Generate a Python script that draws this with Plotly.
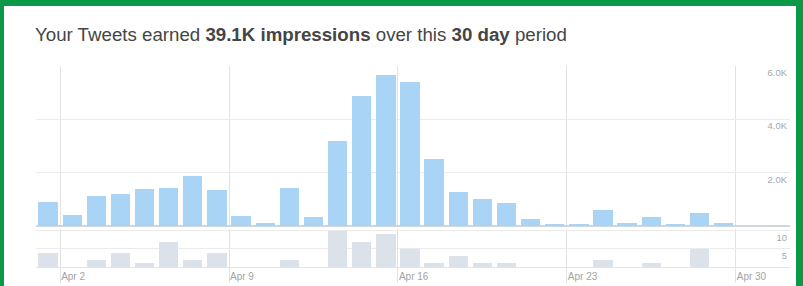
import plotly.graph_objects as go
import pandas as pd

# ---- data ----
dates = pd.date_range("2018-04-01", "2018-04-30", freq="D").strftime("%Y-%m-%d").tolist()
impressions = [900, 400, 1125, 1200, 1375, 1413, 1875, 1350, 375, 100,
               1413, 325, 3200, 4875, 5663, 5413, 2513, 1288, 1000, 850,
               263, 75, 40, 600, 125, 350, 75, 475, 125, 0]
engagements = [4, 0, 2, 4, 1, 7, 2, 4, 0, 0,
               2, 0, 10, 7, 9, 5, 1, 3, 1, 1,
               0, 0, 0, 2, 0, 1, 0, 5, 0, 0]
tick_dates = ["2018-04-02", "2018-04-09", "2018-04-16", "2018-04-23", "2018-04-30"]
imp_tickvals = [2000, 4000, 6000]
imp_ticktext = ["2.0K", "4.0K", "6.0K"]
eng_tickvals = [5, 10]
eng_ticktext = ["5", "10"]
title_html = ("Your Tweets earned <b>39.1K impressions</b> over this "
              "<b>30 day</b> period")

DAY_MS = 86400000
W, H = 803, 286
ML, MR, MT, MB = 36, 13, 66, 19
PW, PH = W - ML - MR, H - MT - MB

fig = go.Figure()
fig.add_bar(x=dates, y=impressions, xaxis="x", yaxis="y",
            marker=dict(color="#aad4f6", line=dict(width=0)),
            width=0.8 * DAY_MS, xperiod=DAY_MS, xperiodalignment="middle",
            hoverinfo="x+y", showlegend=False)
fig.add_bar(x=dates, y=engagements, xaxis="x", yaxis="y2",
            marker=dict(color="#dce2e9", line=dict(width=0)),
            width=0.8 * DAY_MS, xperiod=DAY_MS, xperiodalignment="middle",
            hoverinfo="x+y", showlegend=False)

grid = "#ebebeb"
xtickfont = dict(family="Liberation Sans, Arial, sans-serif", size=10, color="#a3a3a3")
ytickfont = dict(family="Liberation Sans, Arial, sans-serif", size=9.5, color="#a8a8a8")

fig.update_layout(
    width=W, height=H,
    margin=dict(l=ML, r=MR, t=MT, b=MB, pad=0, autoexpand=False),
    paper_bgcolor="white", plot_bgcolor="white",
    bargap=0, barmode="overlay",
    xaxis=dict(type="date", range=["2018-04-01 00:00", "2018-05-02 06:00"],
               tickvals=tick_dates, tickformat="%b %-d",
               showgrid=True, gridcolor="#e2e2e2", gridwidth=1,
               ticks="outside", ticklen=15, tickcolor="#e2e2e2",
               ticklabelposition="outside right",
               showline=True, linecolor="#e4e4e4", linewidth=1,
               zeroline=False, anchor="y2", tickfont=xtickfont,
               automargin=False, fixedrange=True),
    yaxis=dict(domain=[41 / PH, 1], range=[0, 6000], side="right",
               tickvals=imp_tickvals, ticktext=imp_ticktext,
               ticklabelposition="inside bottom", ticks="",
               showgrid=True, gridcolor=grid, zeroline=True,
               zerolinecolor="#cfd6dd", zerolinewidth=1.5,
               tickfont=ytickfont, automargin=False, fixedrange=True),
    yaxis2=dict(domain=[0, 38 / PH], range=[0, 10.5], side="right",
                tickvals=eng_tickvals, ticktext=eng_ticktext,
                ticklabelposition="inside bottom", ticks="",
                showgrid=True, gridcolor=grid, zeroline=False,
                tickfont=ytickfont, anchor="x", automargin=False,
                fixedrange=True),
    font=dict(family="Liberation Sans, Arial, sans-serif"),
)

# title
fig.add_annotation(text=title_html, xref="paper", yref="paper",
                   x=(33 - ML) / PW, y=(H - MB - 35) / PH,
                   xanchor="left", yanchor="middle", showarrow=False,
                   font=dict(family="Liberation Sans, Arial, sans-serif",
                             size=18.7, color="#454545"))

# green frame
green = "#0a9946"
def px_x(v):
    return (v - ML) / PW
def px_y(v):
    return (H - MB - v) / PH
for x0, y0, x1, y1 in [(0, 0, 4, H), (0, 0, W, 6), (796, 0, W, H)]:
    fig.add_shape(type="rect", xref="paper", yref="paper",
                  x0=px_x(x0), x1=px_x(x1), y0=px_y(y1), y1=px_y(y0),
                  fillcolor=green, line=dict(width=0), layer="above")

fig.write_html("out.html", config={"displayModeBar": False},
               post_script="document.body.style.margin='0';"
                           "document.body.style.overflow='hidden';")
